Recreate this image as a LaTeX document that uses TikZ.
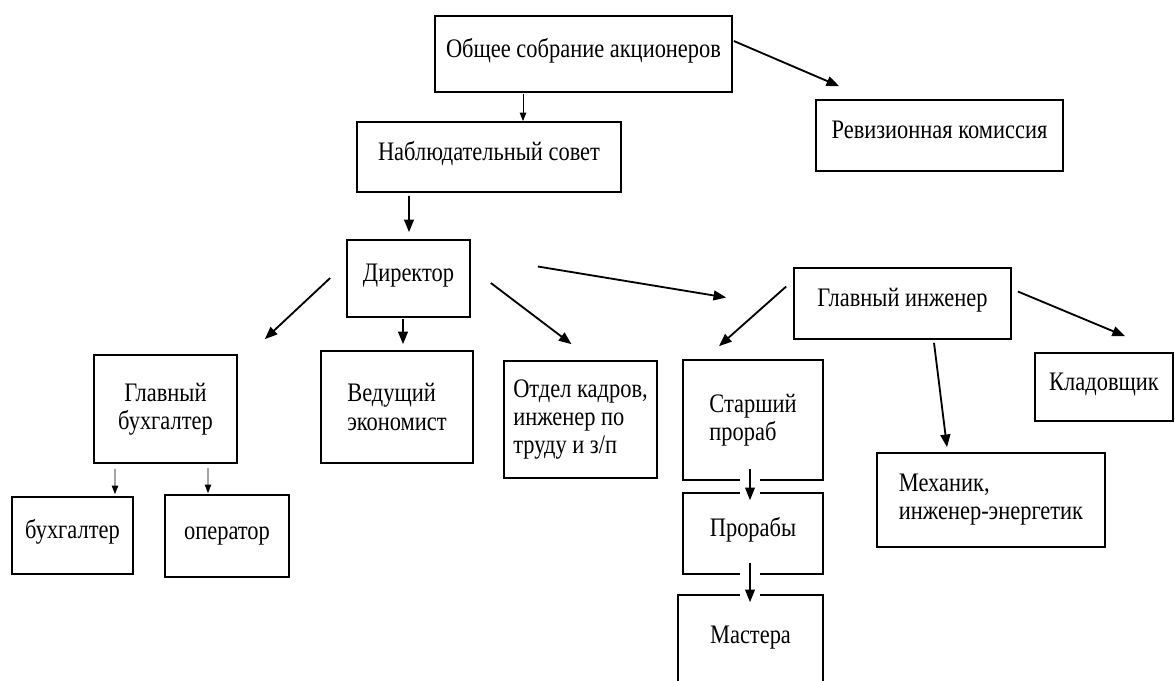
\documentclass[tikz,border=0pt]{standalone}
\usepackage{fontspec}
\setmainfont{Liberation Serif}[FakeStretch=0.84]
\usetikzlibrary{arrows.meta,calc}
\tikzset{
  box/.style={draw, line width=1.2pt, align=center, inner sep=2pt, font=\fontsize{19}{20}\selectfont},
  one/.style={text height=0.68em, text depth=0.2em},
  sz/.style 2 args={minimum width=#1*0.025cm, minimum height=#2*0.025cm},
  arrow/.style={-{Triangle[length=9pt,width=7pt]}, line width=1.3pt},
  thinarrow/.style={-{Triangle[length=6pt,width=4.5pt]}, line width=0.7pt},
  gapline/.style={draw=white, line width=14pt}
}
\begin{document}
\begin{tikzpicture}[x=0.025cm, y=-0.025cm]
  \path[use as bounding box, fill=white] (0,0) rectangle (1175,680);

  \node[box, one, sz={297}{76}] (obs) at (583.5,54) {Общее собрание акционеров};
  \node[box, one, sz={264}{70}] (nab) at (489,157) {Наблюдательный совет};
  \node[box, one, sz={247}{71}] (rev) at (939.5,135.5) {Ревизионная комиссия};
  \node[box, one, sz={123}{77}] (dir) at (408.5,278.5) {Директор};
  \node[box, sz={143}{108}] (gb) at (165.5,409) {Главный\\бухгалтер};
  \node[box, sz={152}{112}, align=left] (ved) at (397,407) {Ведущий\\экономист};
  \node[box, sz={153}{117}, align=left] (otd) at (580.5,419.5) {Отдел кадров,\\инженер по\\труду и з/п};
  \node[box, sz={140}{120}, align=left] (stp) at (753,420) {Старший\\прораб};
  \node[box, one, sz={140}{81}] (prb) at (753,533.5) {Прорабы};
  \node[box, one, sz={145}{91}] (mas) at (750.5,640.5) {Мастера};
  \node[box, one, sz={217}{71}] (gi) at (902.5,303.5) {Главный инженер};
  \node[box, one, sz={138}{68}] (klad) at (1104,387) {Кладовщик};
  \node[box, sz={228}{94}, align=left] (meh) at (991,500) {Механик,\\инженер-энергетик};
  \node[box, one, sz={121}{77}] (buh) at (72.5,535.5) {бухгалтер};
  \node[box, one, sz={124}{82}] (oper) at (227,536) {оператор};

  % top levels
  \draw[thinarrow] ($(obs.south)+(-60.5,1)$) -- ($(nab.north)+(34,0)$);
  \draw[arrow] ($(obs.east)+(1,-13)$) -- ($(rev.north west)+(24,-13)$);
  \draw[arrow] ($(nab.south)+(-80,3)$) -- ($(dir.north)+(0.5,-7)$);

  % director
  \draw[arrow] ($(dir.west)+(-16,-0.5)$) -- ($(gb.north east)+(27,-15)$);
  \draw[arrow] ($(dir.south)+(-5.5,1)$) -- ($(ved.north)+(6,-6)$);
  \draw[arrow] ($(dir.east)+(20,4.5)$) -- ($(otd.north)+(-9,-16)$);
  \draw[arrow] ($(dir.east)+(67,-12)$) -- ($(gi.west)+(-67,-6)$);

  % chief engineer
  \draw[arrow] ($(gi.west)+(-7,-17)$) -- ($(stp.north)+(-34,-13)$);
  \draw[arrow] ($(gi.south)+(31.5,3)$) -- ($(meh.north)+(-44,-5)$);
  \draw[arrow] ($(gi.east)+(6,-12)$) -- ($(klad.north)+(21,-16)$);
  \foreach \a/\b/\s in {stp/prb/-3,prb/mas/-0.5}{
    \path[gapline] ($(\a.south)+(-3,-6)$) -- ($(\b.north)+(\s,6)$);
    \draw[arrow, line width=1pt] ($(\a.south)+(-3,-12)$) -- ($(\b.north)+(\s,8)$);
  }

  % accounting
  \draw[thinarrow] ($(gb.south)+(-50.5,5)$) -- ($(buh.north)+(42.5,-2)$);
  \draw[thinarrow] ($(gb.south)+(42.5,4)$) -- ($(oper.north)+(-19,-1)$);
\end{tikzpicture}
\end{document}
